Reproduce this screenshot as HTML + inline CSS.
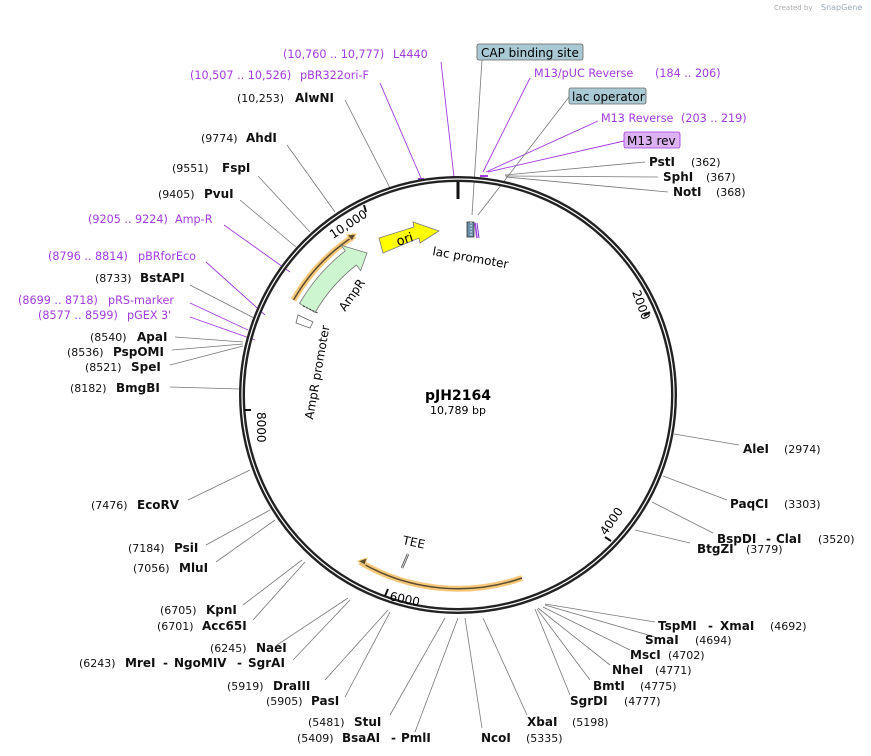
<!DOCTYPE html>
<html><head><meta charset="utf-8"><style>
body{margin:0;background:#fff}
svg{display:block;font-family:"DejaVu Sans","Liberation Sans",sans-serif}
.b{font-weight:bold;font-size:12px;fill:#111}
.n{font-size:11px;fill:#111}
.p{font-size:11.2px;fill:#a23be0}
.g{stroke:#777;stroke-width:0.8;fill:none}
.v{stroke:#a23be0;stroke-width:0.9;fill:none}
</style></head><body>
<svg width="871" height="756" viewBox="0 0 871 756">
<text x="774" y="10" font-size="7" fill="#aaa">Created by</text><text x="821" y="10" font-size="8" fill="#9ab">SnapGene</text>
<g class="v">
<line x1="441" y1="62" x2="454" y2="177"/><line x1="380" y1="83" x2="421" y2="178"/>
<line x1="530" y1="78" x2="483" y2="172"/><line x1="598" y1="121" x2="486" y2="172"/>
<line x1="624" y1="141" x2="488" y2="172"/>
<line x1="224" y1="225" x2="290" y2="272"/><line x1="206" y1="262" x2="265" y2="315"/>
<line x1="190" y1="303" x2="248" y2="330"/><line x1="190" y1="317" x2="255" y2="340"/>
</g>
<g stroke="#a23be0" stroke-width="2">
<line x1="418" y1="179" x2="424" y2="179"/><line x1="451" y1="177" x2="457" y2="177"/>
<line x1="480" y1="176" x2="488" y2="176"/>
</g>
<g class="g">
<line x1="482" y1="60" x2="472" y2="215"/><line x1="569" y1="97" x2="478" y2="215"/>
<line x1="505" y1="175" x2="645" y2="162"/><line x1="505" y1="176" x2="658" y2="177"/><line x1="506" y1="177" x2="668" y2="192"/>
<line x1="345" y1="100" x2="390" y2="188"/><line x1="287" y1="145" x2="335" y2="212"/>
<line x1="258" y1="176" x2="310" y2="232"/><line x1="240" y1="200" x2="296" y2="247"/>
<line x1="190" y1="285" x2="254" y2="318"/>
<line x1="175" y1="337" x2="243" y2="342"/><line x1="172" y1="350" x2="243" y2="344"/><line x1="170" y1="365" x2="243" y2="346"/>
<line x1="170" y1="387" x2="240" y2="389"/><line x1="188" y1="500" x2="250" y2="470"/>
<line x1="206" y1="545" x2="270" y2="510"/><line x1="216" y1="562" x2="275" y2="520"/>
<line x1="243" y1="605" x2="302" y2="560"/><line x1="253" y1="620" x2="305" y2="562"/>
<line x1="277" y1="645" x2="348" y2="598"/><line x1="293" y1="660" x2="350" y2="600"/>
<line x1="325" y1="680" x2="388" y2="610"/><line x1="345" y1="697" x2="390" y2="612"/>
<line x1="390" y1="715" x2="445" y2="618"/><line x1="415" y1="732" x2="458" y2="618"/>
<line x1="482" y1="728" x2="465" y2="618"/><line x1="527" y1="715" x2="483" y2="618"/>
<line x1="655" y1="622" x2="545" y2="604"/><line x1="655" y1="637" x2="545" y2="605"/>
<line x1="630" y1="650" x2="543" y2="607"/><line x1="610" y1="665" x2="538" y2="608"/>
<line x1="590" y1="680" x2="537" y2="609"/><line x1="570" y1="695" x2="535" y2="609"/>
<line x1="690" y1="543" x2="635" y2="530"/><line x1="713" y1="533" x2="652" y2="502"/>
<line x1="727" y1="500" x2="663" y2="476"/><line x1="739" y1="445" x2="674" y2="434"/>
</g>
<circle cx="458" cy="395" r="216" fill="none" stroke="#222" stroke-width="6"/>
<circle cx="458" cy="395" r="216" fill="none" stroke="#fff" stroke-width="1.2"/>
<line x1="458" y1="182" x2="458" y2="199" stroke="#111" stroke-width="3"/>
<g stroke="#111" stroke-width="2">
<line x1="364" y1="205" x2="366" y2="212"/><line x1="650" y1="312" x2="644" y2="316"/>
<line x1="611" y1="541" x2="605" y2="537"/><line x1="385" y1="596" x2="388" y2="589"/>
<line x1="244" y1="410" x2="251" y2="410"/>
</g>
<text transform="translate(333,239) rotate(-33)" font-size="12">10,000</text>
<text transform="translate(632,292) rotate(70)" font-size="12">2000</text>
<text transform="translate(606,536) rotate(-55)" font-size="12">4000</text>
<text transform="translate(389,600) rotate(12)" font-size="12">6000</text>
<text transform="translate(257,412) rotate(90)" font-size="12">8000</text>
<path d="M293.5 300 A190 190 0 0 1 354.5 235.6" fill="none" stroke="#f6c97a" stroke-width="6"/>
<path d="M293.5 300 A190 190 0 0 1 354.5 235.6" fill="none" stroke="#5a4a30" stroke-width="1.5"/>
<path d="M356 234 l-9 1 5 6z" fill="#5a4a30" stroke="#f6c97a"/>
<path d="M522 578 A194 194 0 0 1 360 562" fill="none" stroke="#f6c97a" stroke-width="6"/>
<path d="M522 578 A194 194 0 0 1 360 562" fill="none" stroke="#5a4a30" stroke-width="1.5"/>
<path d="M358 561 l9 -3 -2 7z" fill="#5a4a30" stroke="#f6c97a"/>
<path d="M299.5 303.5 A183 183 0 0 1 345.3 250.8 L341 245.3 L367 253 L360.7 270.5 L356.4 265 A165 165 0 0 0 315.1 312.5 Z" fill="#cdf5cf" stroke="#777" stroke-width="0.8"/>
<line x1="303" y1="306" x2="318" y2="313" stroke="#333" stroke-dasharray="2,1.5"/>
<path d="M298 315 L313 322 L310 328 L296 323 Z" fill="#fff" stroke="#666" stroke-width="0.8"/>
<path d="M379 238 L414 227 L413 222 L439 231 L420 243 L419 238 L383 253 Z" fill="#ffff00" stroke="#777" stroke-width="0.8"/>
<text transform="translate(398,246) rotate(-18)" font-size="13">ori</text>
<rect x="467" y="222" width="7" height="15" fill="#6a8fa8" stroke="#333" stroke-width="0.8"/>
<line x1="471" y1="222" x2="471" y2="237" stroke="#fff" stroke-dasharray="1.5,1.5"/>
<line x1="475" y1="223" x2="477" y2="238" stroke="#a23be0" stroke-width="1.5"/>
<line x1="477" y1="223" x2="479" y2="238" stroke="#7a3fd0" stroke-width="1"/>
<line x1="402" y1="568" x2="408" y2="554" stroke="#555" stroke-width="2.5"/>
<line x1="402" y1="568" x2="408" y2="554" stroke="#fff" stroke-width="0.7"/>
<text transform="translate(432,255) rotate(10)" font-size="12">lac promoter</text>
<text transform="translate(345,312) rotate(-55)" font-size="12">AmpR</text>
<text transform="translate(313,420) rotate(-80)" font-size="12">AmpR promoter</text>
<text transform="translate(402,544) rotate(12)" font-size="12">TEE</text>
<text x="458" y="400" text-anchor="middle" font-weight="bold" font-size="14">pJH2164</text>
<text x="458" y="414" text-anchor="middle" font-size="11">10,789 bp</text>
<rect x="477" y="44" width="106" height="16" rx="2" fill="#a9c9d4" stroke="#666" stroke-width="0.8"/>
<text x="481" y="57" font-size="12">CAP binding site</text>
<rect x="569" y="88" width="77" height="16" rx="2" fill="#a9c9d4" stroke="#666" stroke-width="0.8"/>
<text x="572" y="101" font-size="12">lac operator</text>
<rect x="624" y="132" width="56" height="16" rx="2" fill="#dcb2f0" stroke="#a23be0" stroke-width="0.8"/>
<text x="627" y="145" font-size="12">M13 rev</text>
<text class="p" x="283" y="58">(10,760 .. 10,777)</text><text class="p" x="393" y="58">L4440</text>
<text class="p" x="190" y="79">(10,507 .. 10,526)</text><text class="p" x="300" y="79">pBR322ori-F</text>
<text class="p" x="534" y="77">M13/pUC Reverse</text><text class="p" x="655" y="77">(184 .. 206)</text>
<text class="p" x="601" y="122">M13 Reverse</text><text class="p" x="681" y="122">(203 .. 219)</text>
<text class="p" x="88" y="223">(9205 .. 9224)</text><text class="p" x="175" y="223">Amp-R</text>
<text class="p" x="48" y="260">(8796 .. 8814)</text><text class="p" x="138" y="260">pBRforEco</text>
<text class="p" x="18" y="304">(8699 .. 8718)</text><text class="p" x="108" y="304">pRS-marker</text>
<text class="p" x="38" y="319">(8577 .. 8599)</text><text class="p" x="127" y="319">pGEX 3'</text>
<text class="n" x="237" y="102">(10,253)</text><text class="b" x="295" y="102">AlwNI</text>
<text class="n" x="201" y="142">(9774)</text><text class="b" x="246" y="142">AhdI</text>
<text class="n" x="172" y="172">(9551)</text><text class="b" x="222" y="172">FspI</text>
<text class="n" x="158" y="198">(9405)</text><text class="b" x="204" y="198">PvuI</text>
<text class="n" x="95" y="282">(8733)</text><text class="b" x="140" y="282">BstAPI</text>
<text class="n" x="90" y="341">(8540)</text><text class="b" x="137" y="341">ApaI</text>
<text class="n" x="67" y="356">(8536)</text><text class="b" x="113" y="356">PspOMI</text>
<text class="n" x="85" y="371">(8521)</text><text class="b" x="131" y="371">SpeI</text>
<text class="n" x="70" y="392">(8182)</text><text class="b" x="116" y="392">BmgBI</text>
<text class="n" x="91" y="509">(7476)</text><text class="b" x="137" y="509">EcoRV</text>
<text class="n" x="128" y="552">(7184)</text><text class="b" x="174" y="552">PsiI</text>
<text class="n" x="133" y="572">(7056)</text><text class="b" x="179" y="572">MluI</text>
<text class="n" x="160" y="614">(6705)</text><text class="b" x="206" y="614">KpnI</text>
<text class="n" x="157" y="630">(6701)</text><text class="b" x="202" y="630">Acc65I</text>
<text class="n" x="210" y="652">(6245)</text><text class="b" x="256" y="652">NaeI</text>
<text class="n" x="79" y="667">(6243)</text><text class="b" x="125" y="667">MreI</text><text class="b" x="163" y="667">-</text><text class="b" x="174" y="667">NgoMIV</text><text class="b" x="237" y="667">-</text><text class="b" x="248" y="667">SgrAI</text>
<text class="n" x="227" y="690">(5919)</text><text class="b" x="273" y="690">DraIII</text>
<text class="n" x="266" y="705">(5905)</text><text class="b" x="311" y="705">PasI</text>
<text class="n" x="308" y="726">(5481)</text><text class="b" x="354" y="726">StuI</text>
<text class="n" x="297" y="742">(5409)</text><text class="b" x="342" y="742">BsaAI</text><text class="b" x="391" y="742">-</text><text class="b" x="401" y="742">PmlI</text>
<text class="b" x="481" y="742">NcoI</text><text class="n" x="526" y="742">(5335)</text>
<text class="b" x="527" y="726">XbaI</text><text class="n" x="572" y="726">(5198)</text>
<text class="b" x="570" y="705">SgrDI</text><text class="n" x="624" y="705">(4777)</text>
<text class="b" x="593" y="690">BmtI</text><text class="n" x="640" y="690">(4775)</text>
<text class="b" x="612" y="674">NheI</text><text class="n" x="655" y="674">(4771)</text>
<text class="b" x="630" y="659">MscI</text><text class="n" x="668" y="659">(4702)</text>
<text class="b" x="645" y="644">SmaI</text><text class="n" x="695" y="644">(4694)</text>
<text class="b" x="658" y="630">TspMI</text><text class="b" x="708" y="630">-</text><text class="b" x="720" y="630">XmaI</text><text class="n" x="770" y="630">(4692)</text>
<text class="b" x="697" y="553">BtgZI</text><text class="n" x="746" y="553">(3779)</text>
<text class="b" x="717" y="543">BspDI</text><text class="b" x="766" y="543">-</text><text class="b" x="776" y="543">ClaI</text><text class="n" x="818" y="543">(3520)</text>
<text class="b" x="730" y="508">PaqCI</text><text class="n" x="784" y="508">(3303)</text>
<text class="b" x="743" y="453">AleI</text><text class="n" x="784" y="453">(2974)</text>
<text class="b" x="649" y="166">PstI</text><text class="n" x="691" y="166">(362)</text>
<text class="b" x="663" y="181">SphI</text><text class="n" x="706" y="181">(367)</text>
<text class="b" x="673" y="196">NotI</text><text class="n" x="716" y="196">(368)</text>
</svg>
</body></html>
